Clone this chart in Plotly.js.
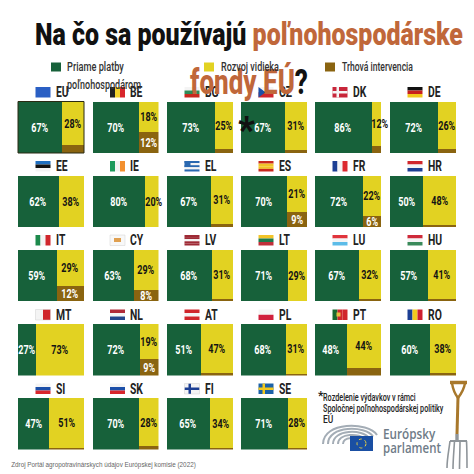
<!DOCTYPE html>
<html><head><meta charset="utf-8">
<script src="https://cdn.plot.ly/plotly-3.0.1.min.js"></script>
<style>html,body{margin:0;padding:0;background:#fff}#c{width:474px;height:474px}</style></head>
<body><div id="c"></div>
<script>
const countries=["EU","BE","BG","CZ","DK","DE","EE","IE","EL","ES","FR","HR","IT","CY","LV","LT","LU","HU","MT","NL","AT","PL","PT","RO","SI","SK","FI","SE"];
const direct=[67,70,73,67,86,72,62,80,67,70,72,50,59,63,68,71,67,57,27,72,51,68,48,60,47,70,65,71];
const rural=[28,18,25,31,12,26,38,20,31,21,22,48,29,29,31,29,32,41,73,19,47,31,44,38,51,28,34,28];
const market=[5,12,2,2,2,2,0,0,2,9,6,2,12,8,1,0,1,2,0,9,2,1,8,2,2,2,1,1];
const marketLabelled=["BE","ES","FR","IT","CY","NL"];
const legendLabels=["Priame platby","poľnohospodárom","Rozvoj vidieka","Trhová intervencia"];
const flagStripes={EU:["h","#2a5fc4"],BE:["v","#222","#f2d22e","#d8262c"],BG:["h","#f4f4f4","#2e8b57","#c8281e"],CZ:["h","#f4f4f4","#d0262c"],DK:["h","#c8263a"],DE:["h","#111","#c8201e","#f2c81e"],EE:["h","#1f6fc0","#111","#f4f4f4"],IE:["v","#1d9a5c","#f4f4f4","#f29030"],EL:["h","#2a68b0","#f4f4f4","#2a68b0","#f4f4f4","#2a68b0"],ES:["h","#c8281e","#f2c428","#f2c428","#c8281e"],FR:["v","#1c3f94","#f4f4f4","#dc2a30"],HR:["h","#d0262c","#f4f4f4","#1c3f94"],IT:["v","#1d8a4c","#f4f4f4","#d0262c"],CY:["h","#f8f8f8"],LV:["h","#9e2a35","#9e2a35","#f4f4f4","#9e2a35","#9e2a35"],LT:["h","#f2c428","#1d7a4c","#c0303a"],LU:["h","#e0343c","#f4f4f4","#5cbce8"],HU:["h","#ce2a3a","#f4f4f4","#3a8a5a"],MT:["v","#f4f4f4","#d0262c"],NL:["h","#b02a38","#f4f4f4","#24468c"],AT:["h","#d0262c","#f4f4f4","#d0262c"],PL:["h","#f4f4f4","#d0203c"],PT:["v","#1a6a30","#d0262c","#d0262c"],RO:["v","#1c3f94","#f2c81e","#ce1e30"],SI:["h","#f4f4f4","#1c4fa8","#d8262c"],SK:["h","#f4f4f4","#1c4fa8","#d8262c"],FI:["h","#f4f4f4"],SE:["h","#1c62a8"]};
const flagCrosses={DK:"#f4f4f4",FI:"#1c3f94",SE:"#f2c81e"};
const labelNudge={DK:5,IE:3};
const GREEN="#17613a",YELLOW="#e2d222",BROWN="#8a6410",ORANGE="#c0673a",INK="#141414",GREY="#6f7c88";
const W=474,H=474,COLS=[18,92.5,167,241,315,390],ROWS=[101.5,175.5,249.5,324,398],PW=66,PH=51.5;
const px=v=>v/W,py=v=>1-v/H;
const traces=[],shapes=[],ann=[],fit=[],layout={width:W,height:H,margin:{l:0,r:0,t:0,b:0},paper_bgcolor:"#fff",plot_bgcolor:"#fff",showlegend:false,bargap:0,barmode:"overlay"};
const BODY="Roboto,'Liberation Sans',sans-serif";
function txt(x,y,text,size,color,anchor,sq,weight,family){ann.push({xref:"paper",yref:"paper",x:px(x),y:py(y),text:text,showarrow:false,xanchor:anchor||"left",yanchor:"middle",font:{family:family||BODY,size:size,color:color,weight:weight||400}});fit.push(Object.assign({a:anchor||"left"},sq||{}));}
function rect(x0,y0,x1,y1,fill,line){shapes.push({type:"rect",xref:"paper",yref:"paper",x0:px(x0),x1:px(x1),y0:py(y0),y1:py(y1),fillcolor:fill,line:line||{width:0},layer:"above"});}
countries.forEach((c,i)=>{
 const cx=COLS[i%6],cy=ROWS[Math.floor(i/6)],id=i?String(i+1):"";
 layout["xaxis"+id]={domain:[px(cx),px(cx+PW)],range:[0,100],visible:false,fixedrange:true,anchor:"y"+id};
 layout["yaxis"+id]={domain:[py(cy+PH),py(cy)],range:[0,100],visible:false,fixedrange:true,anchor:"x"+id};
 const g=direct[i],r=rural[i],m=market[i],right=100-g,mh=m/(r+m)*100;
 const common={type:"bar",xaxis:"x"+id,yaxis:"y"+id,hoverinfo:"skip"};
 traces.push(Object.assign({},common,{x:[g/2],y:[100],width:[g],marker:{color:GREEN,line:{width:0}},name:"Priame platby"}));
 traces.push(Object.assign({},common,{x:[g+right/2],y:[100-mh],base:[mh],width:[right],marker:{color:YELLOW,line:{width:0}},name:"Rozvoj vidieka"}));
 if(m>0)traces.push(Object.assign({},common,{x:[g+right/2],y:[mh],base:[0],width:[right],marker:{color:BROWN,line:{width:0}},name:"Trhová intervencia"}));
 const lab=(x,y,t,col)=>{ann.push({xref:"x"+id,yref:"y"+id,x:x,y:y,text:t,showarrow:false,xanchor:"center",yanchor:"middle",font:{family:BODY,size:12.5,color:col,weight:700}});fit.push({a:"center",s:0.72});};
 lab(g/2,50,g+"%","#fff");
 lab(g+right/2+(labelNudge[c]||0),mh+(100-mh)/2,r+"%",INK);
 if(marketLabelled.includes(c))lab(g+right/2,mh/2,m+"%","#fff");
 const fx=cx+17.5,fy=cy-14.5,fw=15,fh=10.5,f=flagStripes[c],n=f.length-1;
 for(let k=0;k<n;k++){
  if(f[0]==="h")rect(fx,fy+fh*k/n,fx+fw,fy+fh*(k+1)/n,f[k+1]);
  else rect(fx+fw*k/n,fy,fx+fw*(k+1)/n,fy+fh,f[k+1]);
 }
 if(flagCrosses[c]){rect(fx+4,fy,fx+6.5,fy+fh,flagCrosses[c]);rect(fx,fy+4,fx+fw,fy+6.5,flagCrosses[c]);}
 if(c==="CZ")shapes.push({type:"path",xref:"paper",yref:"paper",path:`M${px(fx)},${py(fy)} L${px(fx+7)},${py(fy+fh/2)} L${px(fx)},${py(fy+fh)} Z`,fillcolor:"#1c4fa8",line:{width:0},layer:"above"});
 if(c==="CY")rect(fx+4,fy+3,fx+11,fy+7,"#e0a050");
 if(c==="CY"||c==="FI"||c==="MT")rect(fx,fy,fx+fw,fy+fh,"rgba(0,0,0,0)",{width:0.5,color:"#d0d0d0"});
 if(c==="EL")rect(fx,fy,fx+6,fy+6,"#2a68b0");
 if(c==="PT")rect(fx+4,fy+3,fx+8,fy+7,"#e8c040");
 txt(fx+18,cy-9.5,c,14,"#222","left",{s:0.74},700);
});
rect(COLS[0],ROWS[0],COLS[0]+PW,ROWS[0]+PH,"rgba(0,0,0,0)",{width:1,color:"#2a2a12"});
txt(33,34,"Na čo sa používajú <span style='color:"+ORANGE+"'>poľnohospodárske</span>",32,"#111","left",{w:428},900);
txt(188,81,"<span style='color:"+ORANGE+"'>fondy EÚ</span>?",36,"#111","left",{w:118},800);
[[51,GREEN],[204,YELLOW],[325,BROWN]].forEach(l=>rect(l[0],62.5,l[0]+10,71.5,l[1]));
txt(65,67,legendLabels[0],12,"#333","left",{w:57},500);
txt(65,85,legendLabels[1],12,"#333","left",{w:74},500);
txt(219,67,legendLabels[2],12,"#333","left",{w:58},500);
txt(340,67,legendLabels[3],12,"#333","left",{w:71},500);
txt(246,130,"*",36,"#111","center",{s:1},900);
txt(316,396,"*",12,"#222","left",{s:1},700);
txt(321,397.5,"Rozdelenie výdavkov v rámci",10.5,"#222","left",{w:93},500);
txt(321,408.5,"Spoločnej poľnohospodárskej politiky",10.5,"#222","left",{w:121},500);
txt(321,419.5,"EÚ",10.5,"#222","left",{s:0.8},500);
txt(9,465,"Zdroj Portál agropotravinárskych údajov Európskej komisie (2022)",7,"#666","left",{w:185},400,"'Liberation Sans',sans-serif");
[30,25,20,15,10].forEach(r=>shapes.push({type:"path",xref:"paper",yref:"paper",path:`M${px(353-r)},${py(444)} C${px(353-r)},${py(444-r*.75)} ${px(353+r*.5)},${py(444-r*.75)} ${px(353+r*.8)},${py(444-r*.3)}`,line:{width:2,color:"#a4adb6"},layer:"above"}));
rect(350,436,373,451,"#1a4fa3");
shapes.push({type:"circle",xref:"paper",yref:"paper",x0:px(357),x1:px(366),y0:py(448),y1:py(439),line:{width:1,color:"#e8d040",dash:"dot"},layer:"above"});
txt(381,434,"Európsky",13.5,GREY,"left",{w:53},600,"'Open Sans',sans-serif");
txt(381,448,"parlament",13.5,GREY,"left",{w:58},600,"'Open Sans',sans-serif");
const fp=(d,c,w,fill)=>shapes.push({type:"path",xref:"paper",yref:"paper",path:d.replace(/(-?[\d.]+),(-?[\d.]+)/g,(m,a,b)=>px(+a)+","+py(+b)),line:{width:w,color:c},fillcolor:fill||"rgba(0,0,0,0)",layer:"above"});
const HAFT="#a8782c",STEEL="#8f959a";
fp("M458,397 L457,434",HAFT,3);
fp("M450,382.5 L467,382.5",HAFT,3.5);
fp("M452,383 C453,390 455,394 458,398",HAFT,2.4);
fp("M465,383 C464,390 461,394 458,398",HAFT,2.4);
fp("M457,434 L457,441",STEEL,3.4);
fp("M450,441 L467,441",STEEL,2);
fp("M450,441 C449,450 447,458 447,468",STEEL,1.6);
fp("M454.5,441 C454,450 453,460 453,469",STEEL,1.6);
fp("M460,441 C460,450 459.5,460 459.5,469",STEEL,1.6);
fp("M466.5,441 C467,450 467,460 467,468",STEEL,1.6);
layout.shapes=shapes;layout.annotations=ann;
Plotly.newPlot("c",traces,layout,{displayModeBar:false,staticPlot:true}).then(()=>{
 document.querySelectorAll("#c .annotation").forEach(a=>{
  const o=fit[+a.getAttribute("data-index")],t=a.querySelector("text");
  if(!o||!t)return;
  const b=t.getBBox(),f=o.w?o.w/b.width:o.s,ax=o.a==="center"?b.x+b.width/2:b.x;
  t.setAttribute("transform",`translate(${ax} 0) scale(${f} 1) translate(${-ax} 0)`);
 });
});
</script></body></html>
